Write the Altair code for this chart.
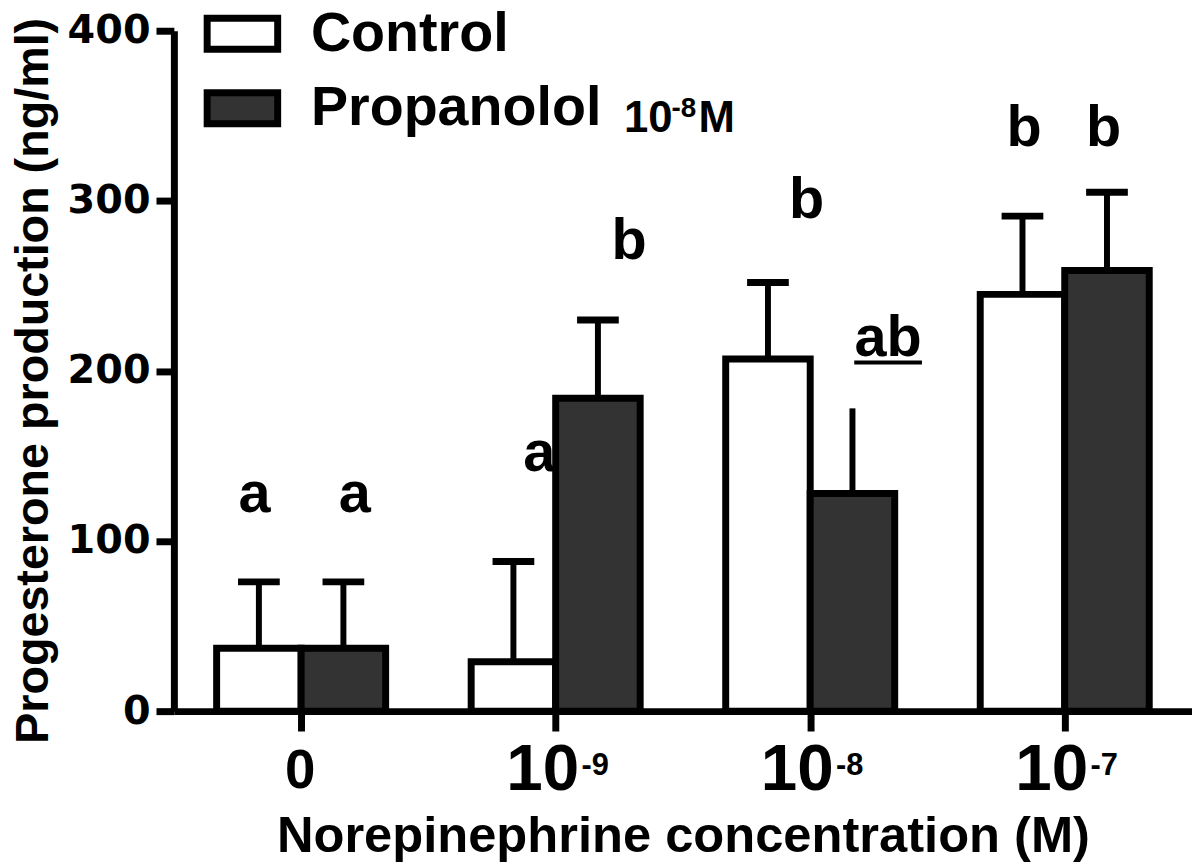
import altair as alt
import pandas as pd

# ---------------- data ----------------
group_pos = [0, 1, 2, 3]
tick_base = ["0", "10", "10", "10"]
tick_exp = ["", "-9", "-8", "-7"]

series = ["Control", "Propanolol"]
control_mean = [37, 29, 207, 245]
control_sem = [39, 59, 45, 46]
prop_mean = [37, 184, 128, 259]
prop_sem = [39, 46, 50, 46]
control_cap = [True, True, True, True]
prop_cap = [True, True, False, True]

letters = ["a", "a", "a", "b", "b", "ab", "b", "b"]
letter_x = [-0.183, 0.211, 0.936, 1.288, 1.986, 2.306, 2.840, 3.153]
letter_y = [117, 117, 141, 266, 290, 209, 332, 332]
underline_x = [2.173, 2.439]
underline_y = [205]

note_anchor_x = [1.268]
note_anchor_y = [340.4]

BW = 0.332  # bar width in group units

rows = []
for i, g in enumerate(group_pos):
    rows.append(dict(series="Control", x0=g - BW, x1=g, xc=g - BW / 2,
                     mean=control_mean[i], top=control_mean[i] + control_sem[i],
                     cap=control_cap[i]))
    rows.append(dict(series="Propanolol", x0=g, x1=g + BW, xc=g + BW / 2,
                     mean=prop_mean[i], top=prop_mean[i] + prop_sem[i],
                     cap=prop_cap[i]))
bars = pd.DataFrame(rows)
ticks = pd.DataFrame(dict(pos=group_pos, base=tick_base, exp=tick_exp))
lett = pd.DataFrame(dict(t=letters, lx=letter_x, ly=letter_y))
uline = pd.DataFrame(dict(u0=[underline_x[0]], u1=[underline_x[1]], uy=underline_y))
note = pd.DataFrame(dict(nx=note_anchor_x, ny=note_anchor_y))

ARIAL = "Liberation Sans"

xscale = alt.Scale(domain=[-0.5, 3.5], nice=False, zero=False)
yscale = alt.Scale(domain=[0, 400], nice=False, zero=True)

xaxis = alt.Axis(values=group_pos, labels=False, grid=False, tickSize=20, tickWidth=7,
                 domainWidth=7, domainColor="black", tickColor="black",
                 title="Norepinephrine concentration (M)", titleFont=ARIAL,
                 titleFontSize=51, titleFontWeight="bold", titleColor="black",
                 titlePadding=78)
yaxis = alt.Axis(values=[0, 100, 200, 300, 400], grid=False, tickSize=18, tickWidth=7,
                 domainWidth=7, domainColor="black", tickColor="black",
                 labelFont="DejaVu Sans", labelFontSize=40, labelFontWeight="bold",
                 labelColor="black", labelPadding=6,
                 title="Progesterone production (ng/ml)", titleFont=ARIAL,
                 titleFontSize=47, titleFontWeight="bold", titleColor="black",
                 titlePadding=10, titleY=352)

legend = alt.Legend(orient="none", legendX=30, legendY=-36, title=None,
                    symbolType="M-1,-0.44H1V0.44H-1Z", symbolSize=5041,
                    symbolStrokeWidth=7, symbolStrokeColor="black",
                    labelFont=ARIAL, labelFontSize=56, labelFontWeight="bold",
                    labelColor="black", labelOffset=30, labelLimit=0,
                    rowPadding=6, padding=0)

base = alt.Chart(bars)

letter_layer = alt.Chart(lett).mark_text(
    font=ARIAL, fontSize=58, fontWeight="bold", color="black",
    align="center", baseline="alphabetic"
).encode(x=alt.X("lx:Q", scale=xscale, axis=xaxis), y=alt.Y("ly:Q", scale=yscale, axis=yaxis), text="t:N")

underline_layer = alt.Chart(uline).mark_rule(color="black", strokeWidth=4).encode(
    x="u0:Q", x2="u1:Q", y="uy:Q")

stems = base.mark_rule(color="black", strokeWidth=6).encode(
    x="xc:Q", y="mean:Q", y2="top:Q")

caps = base.transform_filter("datum.cap").mark_tick(
    orient="horizontal", size=42, thickness=7, color="black", opacity=1, filled=True
).encode(x="xc:Q", y="top:Q")

bar_layer = base.mark_rect(stroke="black", strokeWidth=7, strokeJoin="miter").encode(
    x="x0:Q", x2="x1:Q", y="mean:Q", y2=alt.datum(0),
    color=alt.Color("series:N", scale=alt.Scale(domain=series, range=["#ffffff", "#333333"]),
                    legend=legend))

zero_label = alt.Chart(ticks).transform_filter("datum.exp == ''").mark_text(
    font=ARIAL, fontSize=55, fontWeight="bold", color="black",
    align="center", baseline="alphabetic", dx=-1, dy=77
).encode(x="pos:Q", y=alt.datum(0), text="base:N")

ten_label = alt.Chart(ticks).transform_filter("datum.exp != ''").mark_text(
    font=ARIAL, fontSize=66, fontWeight="bold", color="black",
    align="center", baseline="alphabetic", dx=-13, dy=79
).encode(x="pos:Q", y=alt.datum(0), text="base:N")

exp_label = alt.Chart(ticks).transform_filter("datum.exp != ''").mark_text(
    font=ARIAL, fontSize=31, fontWeight="bold", color="black",
    align="left", baseline="alphabetic", dx=26, dy=64
).encode(x="pos:Q", y=alt.datum(0), text="exp:N")

note_10 = alt.Chart(note).mark_text(
    font=ARIAL, fontSize=44, fontWeight="bold", color="black",
    align="left", baseline="alphabetic"
).encode(x="nx:Q", y="ny:Q", text=alt.value("10"))
note_exp = alt.Chart(note).mark_text(
    font=ARIAL, fontSize=28, fontWeight="bold", color="black",
    align="left", baseline="alphabetic", dx=48, dy=-15
).encode(x="nx:Q", y="ny:Q", text=alt.value("-8"))
note_m = alt.Chart(note).mark_text(
    font=ARIAL, fontSize=44, fontWeight="bold", color="black",
    align="left", baseline="alphabetic", dx=75
).encode(x="nx:Q", y="ny:Q", text=alt.value("M"))

chart = alt.layer(
    letter_layer, underline_layer, stems, caps, bar_layer,
    zero_label, ten_label, exp_label, note_10, note_exp, note_m
).properties(
    width=1025, height=685,
    autosize=alt.AutoSizeParams(type="none"),
    padding={"left": 167, "top": 20, "right": 0, "bottom": 150},
    background="white"
).configure_view(stroke=None)

chart.save("out.html", embed_options={"renderer": "svg", "actions": False})
